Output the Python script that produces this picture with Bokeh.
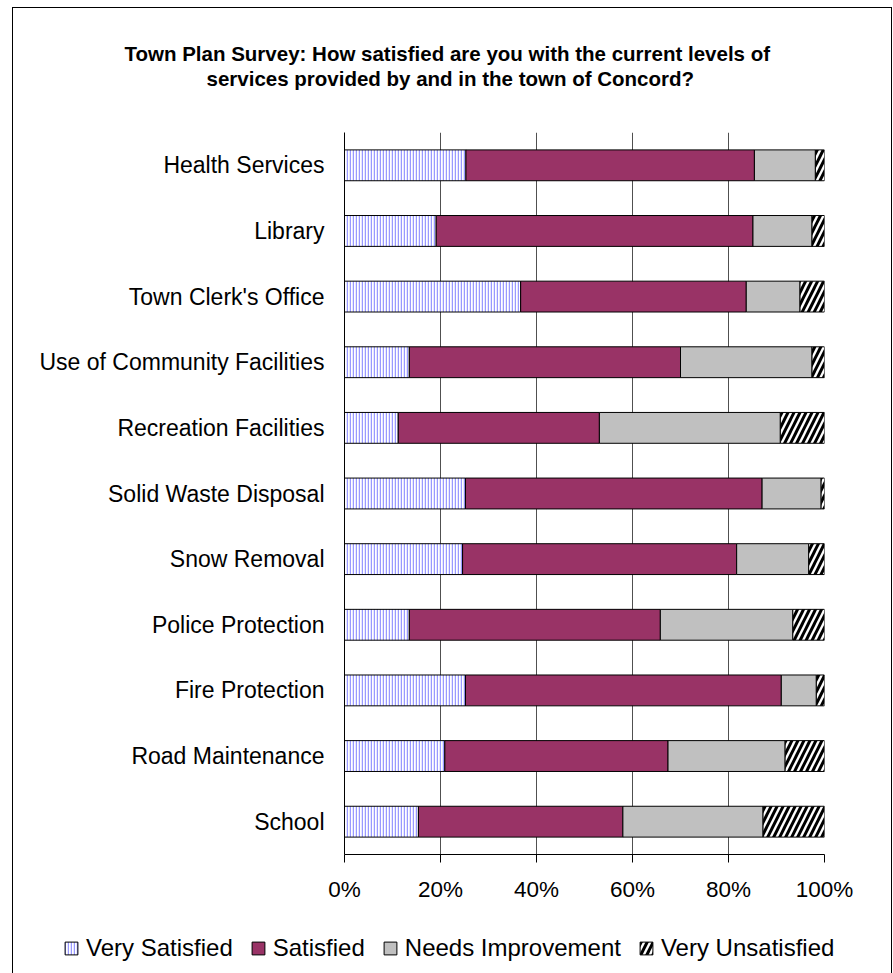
from bokeh.plotting import figure
from bokeh.models import (ColumnDataSource, FactorRange, Range1d, FixedTicker,
                          NumeralTickFormatter, Legend, LegendItem, Title, Div)
from bokeh.layouts import column
from bokeh.embed import file_html
from bokeh.resources import INLINE

services = ["Health Services", "Library", "Town Clerk's Office",
            "Use of Community Facilities", "Recreation Facilities",
            "Solid Waste Disposal", "Snow Removal", "Police Protection",
            "Fire Protection", "Road Maintenance", "School"]
very_satisfied = [25.3, 19.1, 36.7, 13.5, 11.2, 25.2, 24.6, 13.5, 25.2, 20.9, 15.4]
satisfied = [60.1, 66.0, 47.0, 56.5, 41.9, 61.8, 57.1, 52.3, 65.8, 46.5, 42.6]
needs_improvement = [12.7, 12.3, 11.2, 27.4, 37.7, 12.3, 15.0, 27.6, 7.3, 24.4, 29.2]
very_unsatisfied = [1.9, 2.6, 5.1, 2.6, 9.2, 0.7, 3.3, 6.6, 1.7, 8.2, 12.8]
series_names = ["Very Satisfied", "Satisfied", "Needs Improvement", "Very Unsatisfied"]
tick_values = [0, 0.2, 0.4, 0.6, 0.8, 1.0]
title_lines = ["Town Plan Survey: How satisfied are you with the current levels of",
               "services provided by and in the town of Concord?"]

FONT = "Liberation Sans"
fills = ["white", "#993366", "#C0C0C0", "white"]
hatches = ["|", " ", " ", "/"]
hatch_colors = ["#9999FF", "black", "black", "black"]
hatch_scales = [3, 12, 12, 12]
hatch_weights = [1.5, 1, 1, 3]

data = {"service": services}
keys = ["vs", "s", "ni", "vu"]
for k, arr in zip(keys, [very_satisfied, satisfied, needs_improvement, very_unsatisfied]):
    data[k] = [v / 100.0 for v in arr]
src = ColumnDataSource(data)

W = 893
H_MAIN, H_LEG = 920, 53
FL, FR, FT, FB = 344, 824, 132, 854

bar_style = dict(fill_color=fills, hatch_pattern=hatches, hatch_color=hatch_colors,
                 hatch_scale=hatch_scales, hatch_weight=hatch_weights,
                 line_color="black", line_width=1)

p = figure(width=W, height=H_MAIN, output_backend="svg", toolbar_location=None,
           y_range=FactorRange(*reversed(services), range_padding=0),
           x_range=Range1d(0, 1),
           min_border_left=FL, min_border_right=W - FR,
           min_border_top=FT, min_border_bottom=H_MAIN - FB)
p.outline_line_color = None
p.background_fill_color = "white"
p.border_fill_color = "white"

renderers = p.hbar_stack(keys, y="service", height=0.47, source=src, **bar_style)

p.xgrid.ticker = FixedTicker(ticks=tick_values)
p.xgrid.grid_line_color = "#505050"
p.xgrid.grid_line_width = 1
p.xgrid.level = "underlay"
p.ygrid.grid_line_color = None

xa = p.xaxis[0]
xa.ticker = FixedTicker(ticks=tick_values)
xa.formatter = NumeralTickFormatter(format="0%")
xa.axis_line_color = "black"
xa.major_tick_line_color = "black"
xa.major_tick_in = 0
xa.major_tick_out = 8
xa.minor_tick_line_color = None
xa.major_label_standoff = 14
xa.major_label_text_font = FONT
xa.major_label_text_font_size = "22.5px"
xa.major_label_text_color = "black"

ya = p.yaxis[0]
ya.axis_line_color = "black"
ya.major_tick_in = 0
ya.major_tick_out = 0
ya.major_tick_line_color = None
ya.major_label_standoff = 20
ya.major_label_text_font = FONT
ya.major_label_text_font_size = "23px"
ya.major_label_text_color = "black"

# spacer between title and plot area, then the two title lines (outermost last)
p.add_layout(Title(text=" ", text_font_size="1px", standoff=40), "above")
line_offsets = [124 - FL, int(450.5 - 487.5 / 2) - FL]
for line, off in reversed(list(zip(title_lines, line_offsets))):
    p.add_layout(Title(text=line, align="left", offset=off, standoff=0,
                       text_font=FONT, text_font_style="bold",
                       text_font_size="20.5px", text_color="black"), "above")

# legend strip below the chart: same stacked bars (hidden), shown only as legend keys
lg = figure(width=W, height=H_LEG, output_backend="svg", toolbar_location=None,
            x_range=Range1d(0, 1), y_range=FactorRange(*reversed(services)),
            x_axis_type=None, y_axis_type=None,
            min_border_left=0, min_border_right=0, min_border_top=0, min_border_bottom=0)
if "frame_align" in lg.properties():
    lg.frame_align = False
lg.outline_line_color = None
lg.background_fill_color = "white"
lg.border_fill_color = "white"
lg.grid.visible = False
leg_renderers = lg.hbar_stack(keys, y="service", height=0.47, source=src,
                              visible=False, **bar_style)
items = [LegendItem(label=n, renderers=[r]) for n, r in zip(series_names, leg_renderers)]
legend = Legend(items=items, orientation="horizontal", location=(63, 11),
                glyph_width=16, glyph_height=16, label_standoff=7, spacing=17,
                padding=0, margin=0, border_line_color=None,
                background_fill_alpha=0, inactive_fill_alpha=0,
                label_text_font=FONT,
                label_text_font_size="24px", label_text_color="black")
lg.add_layout(legend, "center")

border = Div(text="", width=880, height=966, margin=0,
             styles={"position": "absolute", "left": "12px", "top": "7px",
                     "box-sizing": "border-box", "border-left": "1.5px solid black",
                     "border-top": "1.5px solid black", "border-right": "1.5px solid black",
                     "pointer-events": "none", "z-index": "5",
                     "background": "transparent"})

layout = column(border, p, lg, spacing=0)
open("out.html", "w").write(file_html(layout, INLINE))
